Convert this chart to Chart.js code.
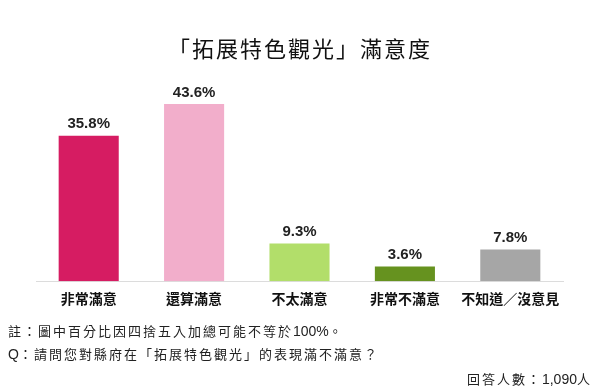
<!DOCTYPE html>
<html>
<head>
<meta charset="utf-8">
<script src="https://cdn.jsdelivr.net/npm/chart.js@4"></script>
<style>
    body { margin: 0; background: #fff; }
    #wrap { position: relative; width: 600px; height: 392px; overflow: hidden; }
    #title { position: absolute; left: 0; width: 600px; top: 31px; text-align: center;
        font: 22px "Noto Sans CJK TC"; letter-spacing: 2px; color: #111; }
    .note { position: absolute; left: 8px; font: 13px "Noto Sans CJK TC"; letter-spacing: 2px; color: #222; }
    .note span { font-family: "Liberation Sans"; letter-spacing: 0; font-size: 14px; }
    #count { position: absolute; right: 8px; top: 369px; font: 13px "Noto Sans CJK TC"; letter-spacing: 2px; color: #222; }
    #count span { font-family: "Liberation Sans"; letter-spacing: 0; font-size: 14px; }
</style>
</head>
<body>
<div id="wrap">
    <canvas id="SatisfactionChart" width="600" height="392"></canvas>
    <div id="title">「拓展特色觀光」滿意度</div>
    <div class="note" style="top:321px">註：圖中百分比因四捨五入加總可能不等於<span>100%</span>。</div>
    <div class="note" style="top:344px"><span>Q</span>：請問您對縣府在「拓展特色觀光」的表現滿不滿意？</div>
    <div id="count">回答人數：<span>1,090</span>人</div>
</div>
<script>
const categories = ['非常滿意', '還算滿意', '不太滿意', '非常不滿意', '不知道／沒意見'];
const percents = [35.8, 43.6, 9.3, 3.6, 7.8];
const barColors = ['#D61C62', '#F2AECB', '#B2DE6A', '#66921F', '#A6A6A6'];

// value labels above each bar
const valueLabels = {
    id: 'valueLabels',
    afterDatasetsDraw(chart) {
        const ctx = chart.ctx;
        const meta = chart.getDatasetMeta(0);
        ctx.save();
        ctx.font = 'bold 15px "Liberation Sans"';
        ctx.fillStyle = '#222';
        ctx.textAlign = 'center';
        ctx.textBaseline = 'bottom';
        meta.data.forEach((bar, i) => {
            ctx.fillText(percents[i].toFixed(1) + '%', bar.x, bar.y - 4);
        });
        ctx.restore();
    }
};

const ctx = document.getElementById('SatisfactionChart');
new Chart(ctx, {
    type: 'bar',
    data: {
        labels: categories,
        datasets: [{
            label: '滿意度',
            data: percents,
            backgroundColor: barColors,
            borderWidth: 0,
            barPercentage: 0.57,
            categoryPercentage: 1
        }]
    },
    options: {
        responsive: false,
        animation: false,
        layout: {
            padding: { top: 78, left: 36, right: 37, bottom: 76 }
        },
        plugins: {
            legend: { display: false },
            tooltip: { enabled: false }
        },
        scales: {
            y: {
                display: false,
                min: 0,
                max: 50
            },
            x: {
                grid: { display: false, drawTicks: false },
                border: { display: true, color: '#dcdcdc', width: 1 },
                ticks: {
                    padding: 9,
                    color: '#111',
                    font: { family: 'Noto Sans CJK TC', size: 14, weight: 'bold' }
                }
            }
        }
    },
    plugins: [valueLabels]
});
</script>
</body>
</html>
